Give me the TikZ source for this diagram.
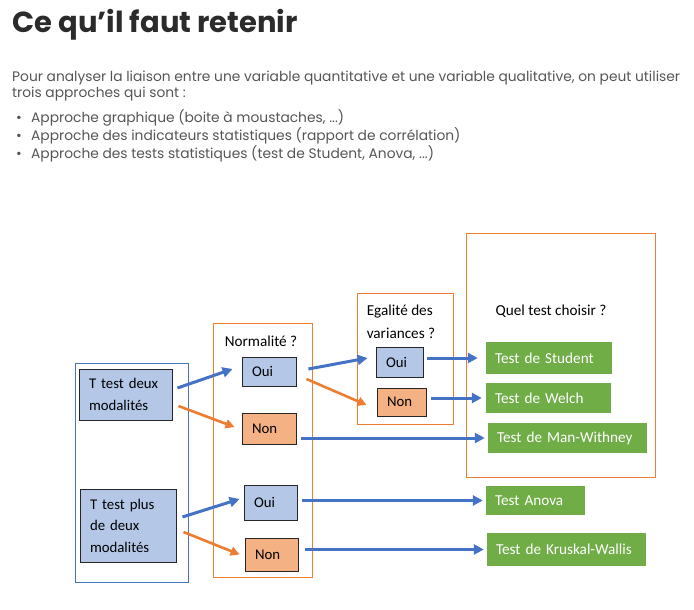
\documentclass[tikz,border=0pt]{standalone}
\usepackage{fontspec}
\setmainfont{Poppins}
\newfontfamily\diagfont{Carlito}
\usetikzlibrary{arrows.meta}

\definecolor{blueA}{HTML}{4472C4}
\definecolor{orangeA}{HTML}{ED7D31}
\definecolor{blueL}{HTML}{B4C7E7}
\definecolor{orangeL}{HTML}{F4B183}
\definecolor{greenT}{HTML}{70AD47}
\definecolor{edgeC}{HTML}{262626}
\definecolor{titleC}{HTML}{2B2B2B}
\definecolor{bodyC}{HTML}{555555}

\tikzset{
    frameB/.style={draw=blueA, line width=1pt, inner sep=0pt},
    frameO/.style={draw=orangeA, line width=1pt, inner sep=0pt},
    label/.style={inner sep=0pt, align=left, font=\diagfont\fontsize{15.2}{23}\selectfont},
    choice/.style={draw=edgeC, line width=0.9pt, inner xsep=10pt, inner ysep=0pt,
        align=left, font=\diagfont\fontsize{14.8}{21.5}\selectfont},
    oui/.style={choice, fill=blueL},
    non/.style={choice, fill=orangeL},
    testbox/.style={fill=greenT, text=white, inner xsep=9pt, inner ysep=0pt,
        align=left, font=\diagfont\fontsize{15.2}{17}\selectfont},
    barrow/.style={draw=blueA, line width=3pt, -{Triangle[length=10pt,width=10pt]}},
    oarrow/.style={draw=orangeA, line width=2.6pt, -{Triangle[length=9pt,width=9pt]}},
}

\begin{document}
\begin{tikzpicture}[x=1pt,y=-1pt]
    \useasboundingbox (0,0) rectangle (694,610);

    % en-tete
    \node[anchor=base west, inner sep=0pt, text=titleC,
        font=\bfseries\fontsize{29}{31}\selectfont] (title) at (12,33) {Ce qu’il faut retenir};
    \node[anchor=base west, inner sep=0pt, text=bodyC, align=left,
        font=\fontsize{13.8}{13}\selectfont] (intro) at (12,97)
        {Pour analyser la liaison entre une variable quantitative et une variable qualitative, on peut utiliser\\
         trois approches qui sont :};
    \node[anchor=base west, inner sep=0pt, text=bodyC, align=left,
        font=\fontsize{13.8}{12.5}\selectfont] (approches) at (16,158)
        {\makebox[15pt][l]{•}Approche graphique (boite à moustaches, ...)\\
         \makebox[15pt][l]{•}Approche des indicateurs statistiques (rapport de corrélation)\\
         \makebox[15pt][l]{•}Approche des tests statistiques (test de Student, Anova, ...)};

    % cadres
    \node[frameB, minimum width=113pt, minimum height=219pt] (fmod) at (131.5,472.5) {};
    \node[frameO, minimum width=99pt, minimum height=254pt] (fnorm) at (262.5,450) {};
    \node[frameO, minimum width=96pt, minimum height=131pt] (fvar) at (405,358.5) {};
    \node[frameO, minimum width=189pt, minimum height=244pt] (ftest) at (560.5,355) {};

    \node[label] (lnorm) at (261,341) {Normalité ?};
    \node[label] (lvar) at (401,322) {Egalité des\\variances ?};
    \node[label] (ltest) at (551,311) {Quel test choisir ?};

    % modalites
    \node[oui, text width=73pt, minimum height=51pt] (tdeux) at (125.5,394.5) {T test deux\\modalités};
    \node[oui, text width=76pt, minimum height=73pt] (tplus) at (128,525.5) {T test plus\\de deux\\modalités};

    % normalite
    \node[oui, text width=34pt, minimum height=29pt] (oui1) at (269,371.5) {Oui};
    \node[non, text width=34pt, minimum height=31pt] (non1) at (269,428.5) {Non};
    \node[oui, text width=33pt, minimum height=35pt] (oui2) at (270.5,502.5) {Oui};
    \node[non, text width=33pt, minimum height=33pt] (non2) at (271.5,554.5) {Non};

    % variances
    \node[oui, text width=27pt, minimum height=30pt] (oui3) at (399.5,362) {Oui};
    \node[non, text width=29pt, minimum height=28pt] (non3) at (401.5,402) {Non};

    % tests
    \node[testbox, text width=108pt, minimum height=32pt] (student) at (549,358) {Test de Student};
    \node[testbox, text width=107pt, minimum height=30pt] (welch) at (548.5,398) {Test de Welch};
    \node[testbox, text width=141pt, minimum height=30pt] (manw) at (567.5,438) {Test de Man-Withney};
    \node[testbox, text width=81pt, minimum height=29pt] (anova) at (535.5,500.5) {Test Anova};
    \node[testbox, text width=141pt, minimum height=33pt] (krusk) at (566.5,549.5) {Test de Kruskal-Wallis};

    % fleches
    \draw[barrow] ([xshift=5pt,yshift=6.5pt]tdeux.east) -- ([xshift=-9pt,yshift=2.5pt]oui1.west);
    \draw[oarrow] ([xshift=6pt,yshift=-11.5pt]tdeux.east) -- ([xshift=-7pt,yshift=1.5pt]non1.west);
    \draw[barrow] ([xshift=6pt,yshift=8.5pt]tplus.east) -- ([xshift=-4pt,yshift=3.5pt]oui2.west);
    \draw[oarrow] ([xshift=7pt,yshift=-6.5pt]tplus.east) -- ([xshift=-5pt]non2.west);
    \draw[barrow] ([xshift=12pt,yshift=2.5pt]oui1.east) -- ([xshift=-8pt,yshift=4pt]oui3.west);
    \draw[oarrow] ([xshift=10pt,yshift=-7.5pt]oui1.east) -- ([xshift=-10pt,yshift=-3pt]non3.west);

    \draw[barrow, shorten <=5pt, shorten >=3pt] (non1.east |- manw.west) -- (manw.west);
    \draw[barrow, shorten <=5pt, shorten >=3pt] (oui2.east |- anova.west) -- (anova.west);
    \draw[barrow, shorten <=7pt, shorten >=3pt] (non2.east |- krusk.west) -- (krusk.west);
    \draw[barrow, shorten <=4pt, shorten >=8pt] (oui3.east |- student.west) -- (student.west);
    \draw[barrow, shorten <=5pt, shorten >=4pt] (non3.east |- welch.west) -- (welch.west);
\end{tikzpicture}
\end{document}
